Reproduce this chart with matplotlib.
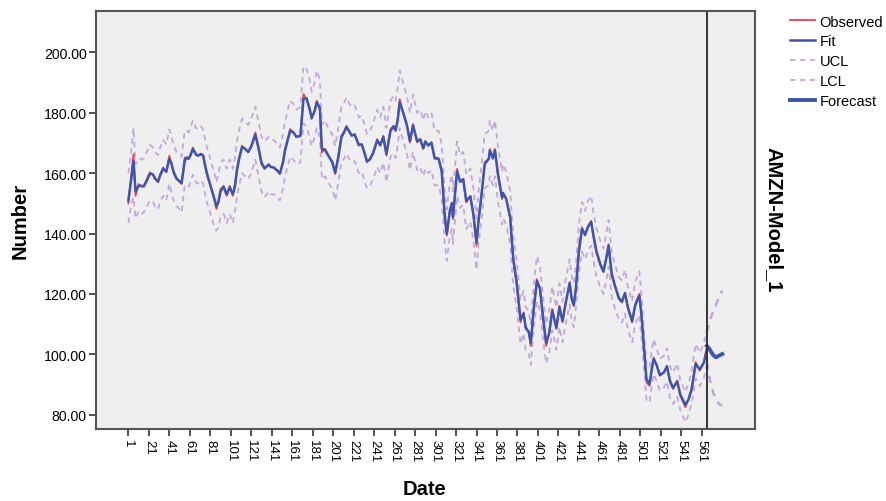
import numpy as np
import matplotlib
matplotlib.use("Agg")
import matplotlib.pyplot as plt

plt.rcParams['font.family'] = ['Liberation Sans', 'DejaVu Sans']

date_idx = [1, 4, 6, 8, 11, 14, 16, 19, 22, 25,
            27, 30, 32, 35, 38, 41, 43, 45, 48, 50,
            53, 56, 58, 60, 62, 64, 67, 69, 72, 74,
            76, 78, 80, 82, 85, 87, 89, 91, 94, 97,
            100, 103, 105, 107, 109, 112, 115, 118, 121, 125,
            128, 131, 134, 138, 140, 143, 147, 149, 152, 154,
            157, 159, 162, 165, 169, 172, 175, 178, 180, 183,
            185, 188, 190, 193, 196, 200, 203, 206, 209, 212,
            214, 217, 219, 222, 226, 229, 232, 234, 237, 240,
            244, 247, 250, 253, 257, 260, 262, 264, 266, 270,
            273, 276, 279, 283, 286, 289, 291, 294, 297, 300,
            304, 307, 310, 312, 315, 317, 318, 322, 325, 328,
            331, 335, 338, 341, 343, 346, 349, 353, 354, 357,
            359, 362, 366, 367, 370, 374, 375, 377, 380, 384,
            387, 389, 392, 394, 397, 400, 403, 406, 409, 412,
            415, 419, 422, 425, 428, 432, 434, 436, 438, 441,
            444, 447, 450, 453, 455, 458, 462, 465, 468, 470,
            473, 476, 480, 483, 486, 489, 493, 496, 500, 502,
            505, 507, 510, 512, 514, 517, 520, 524, 527, 530,
            533, 537, 540, 545, 548, 551, 555, 559, 563, 566]

observed = [150.0, 160.0, 166.3, 152.5, 156.4, 155.5, 155.8, 158.0, 160.3, 159.5,
            158.0, 157.0, 159.7, 161.9, 160.3, 165.8, 163.0, 160.3, 158.0, 157.5,
            156.4, 165.2, 165.0, 164.7, 166.5, 168.5, 166.0, 165.8, 166.5, 165.8,
            162.0, 159.1, 157.0, 154.7, 151.0, 148.1, 151.0, 154.7, 155.8, 152.5,
            155.8, 152.5, 156.0, 161.4, 165.0, 169.1, 168.0, 166.9, 169.1, 173.5,
            168.0, 163.0, 161.4, 163.0, 162.0, 161.9, 160.5, 159.7, 164.0, 168.0,
            172.0, 174.6, 173.5, 171.9, 172.4, 186.2, 184.5, 181.0, 177.9, 181.0,
            184.0, 181.2, 166.9, 168.0, 165.8, 163.6, 159.7, 165.8, 172.4, 174.0,
            175.7, 173.5, 172.4, 172.9, 169.1, 169.6, 166.0, 163.6, 164.7, 166.9,
            171.3, 169.1, 172.4, 165.8, 174.6, 175.7, 174.0, 178.0, 184.5, 179.0,
            175.7, 170.2, 176.3, 170.2, 171.3, 168.0, 170.7, 169.1, 170.2, 164.7,
            164.7, 160.3, 144.8, 139.3, 148.1, 150.3, 144.8, 161.4, 157.0, 158.1,
            150.3, 152.5, 145.9, 136.0, 144.8, 153.6, 163.6, 164.7, 168.0, 164.7,
            168.0, 159.1, 151.4, 153.6, 151.4, 144.8, 139.3, 130.5, 123.8, 110.6,
            113.9, 108.4, 107.3, 102.8, 116.1, 124.9, 121.6, 111.7, 102.8, 107.3,
            115.0, 108.4, 116.1, 110.6, 117.2, 124.0, 118.0, 116.0, 122.0, 135.0,
            142.1, 139.3, 142.6, 144.2, 139.3, 133.8, 129.4, 127.2, 132.7, 136.5,
            126.1, 122.7, 118.3, 117.2, 120.5, 115.0, 110.6, 116.7, 120.0, 112.8,
            99.5, 90.7, 89.6, 95.1, 99.0, 96.2, 92.9, 94.0, 96.2, 90.7,
            88.5, 91.3, 86.3, 82.5, 85.2, 88.5, 97.4, 94.6, 97.4, 102.3]

fit = [151.0, 158.5, 164.0, 154.0, 155.8, 155.8, 155.6, 157.5, 159.8, 159.6,
       158.3, 157.2, 159.2, 161.5, 160.5, 164.8, 163.3, 160.6, 158.3, 157.6,
       156.8, 164.0, 165.2, 164.8, 166.2, 168.0, 166.3, 165.8, 166.3, 165.9,
       162.5, 159.6, 157.3, 155.0, 151.5, 149.0, 150.5, 154.0, 155.5, 153.0,
       155.3, 153.0, 155.5, 160.8, 164.5, 168.6, 168.1, 167.0, 168.8, 172.8,
       168.6, 163.5, 161.6, 162.8, 162.1, 161.9, 160.7, 159.9, 163.5, 167.5,
       171.5, 174.0, 173.6, 172.1, 172.3, 184.5, 184.8, 181.4, 178.3, 180.6,
       183.5, 181.6, 168.0, 167.8, 166.0, 163.8, 160.2, 165.2, 171.8, 173.8,
       175.3, 173.7, 172.5, 172.8, 169.4, 169.5, 166.3, 163.9, 164.6, 166.6,
       170.8, 169.3, 172.0, 166.4, 174.0, 175.5, 174.2, 177.5, 183.5, 179.4,
       176.0, 170.6, 175.8, 170.6, 171.2, 168.3, 170.4, 169.2, 170.1, 165.2,
       164.8, 160.8, 146.0, 140.0, 147.5, 150.0, 145.5, 160.5, 157.2, 158.0,
       150.8, 152.3, 146.3, 137.0, 144.2, 153.0, 163.0, 164.8, 167.5, 165.0,
       167.6, 159.6, 152.0, 153.3, 151.5, 145.3, 140.0, 131.5, 124.5, 111.5,
       113.5, 109.0, 107.4, 103.8, 115.3, 124.2, 121.8, 112.3, 103.8, 107.0,
       114.5, 108.8, 115.6, 111.0, 116.8, 123.5, 118.4, 116.3, 121.5, 134.0,
       141.5, 139.6, 142.3, 143.8, 139.8, 134.3, 129.8, 127.5, 132.2, 136.0,
       126.8, 123.0, 118.7, 117.4, 120.2, 115.4, 111.0, 116.2, 119.5, 113.5,
       100.5, 91.8, 90.2, 94.6, 98.5, 96.4, 93.2, 94.0, 96.0, 91.2,
       88.9, 91.0, 86.7, 83.3, 85.0, 88.2, 96.8, 95.0, 97.2, 101.5]

ucl = [160.0, 168.0, 175.0, 163.0, 165.0, 164.5, 165.0, 167.0, 169.5, 168.5,
       167.0, 166.0, 168.5, 171.0, 169.5, 174.5, 172.0, 169.5, 167.0, 166.5,
       165.5, 174.0, 174.0, 173.5, 175.5, 177.5, 175.0, 174.5, 175.5, 174.5,
       171.0, 168.0, 166.0, 163.5, 160.0, 157.0, 160.0, 163.5, 164.5, 161.5,
       164.5, 161.5, 165.0, 170.5, 174.0, 178.0, 177.0, 176.0, 178.0, 182.0,
       177.0, 172.0, 170.5, 172.0, 171.0, 171.0, 169.5, 168.5, 173.0, 177.0,
       181.5, 184.0, 183.0, 181.0, 182.0, 195.5, 194.5, 191.0, 187.0, 190.0,
       194.0, 191.0, 176.0, 177.5, 175.0, 173.0, 169.0, 175.0, 182.0, 183.5,
       185.0, 183.0, 182.0, 182.5, 178.5, 179.0, 175.5, 173.0, 174.0, 176.5,
       181.0, 178.5, 182.0, 175.0, 184.0, 185.5, 184.0, 188.0, 194.0, 189.0,
       185.5, 180.0, 186.0, 180.0, 181.0, 177.5, 180.5, 178.5, 180.0, 174.0,
       174.0, 169.5, 154.0, 148.0, 157.0, 159.5, 154.0, 170.5, 166.0, 167.0,
       159.5, 161.5, 155.0, 145.0, 154.0, 163.0, 173.0, 174.0, 177.5, 174.0,
       177.5, 168.5, 160.5, 163.0, 160.5, 154.0, 148.5, 139.0, 132.0, 118.0,
       121.0, 115.5, 114.5, 110.0, 123.5, 132.5, 129.0, 119.0, 110.0, 114.5,
       122.5, 115.5, 123.5, 117.5, 124.5, 131.5, 125.5, 123.5, 129.5, 143.0,
       150.5, 147.5, 151.0, 152.5, 147.5, 142.0, 137.5, 135.0, 140.5, 144.5,
       134.0, 130.0, 125.5, 124.5, 128.0, 122.0, 117.5, 124.0, 127.5, 120.0,
       106.0, 96.5, 95.5, 101.0, 105.0, 102.0, 98.5, 99.5, 102.0, 96.0,
       94.0, 97.0, 91.5, 87.5, 90.5, 94.0, 103.5, 100.5, 103.5, 108.5]

lcl = [143.5, 150.0, 152.0, 145.0, 147.5, 146.5, 147.0, 149.0, 151.0, 150.5,
       149.0, 148.0, 150.5, 152.5, 151.0, 156.5, 154.0, 151.0, 149.0, 148.5,
       147.0, 156.0, 156.0, 155.5, 157.5, 159.5, 157.0, 156.5, 157.5, 156.5,
       153.0, 150.0, 148.0, 145.5, 142.0, 141.0, 142.0, 145.5, 146.5, 143.5,
       146.5, 143.5, 147.0, 152.0, 155.5, 160.0, 159.0, 158.0, 160.0, 164.5,
       159.0, 154.0, 152.0, 154.0, 153.0, 153.0, 151.5, 151.0, 155.0, 159.0,
       163.0, 165.5, 164.5, 163.0, 163.5, 176.5, 175.5, 172.0, 169.0, 172.0,
       175.0, 172.0, 158.0, 159.0, 157.0, 155.0, 151.0, 157.0, 163.5, 165.0,
       166.5, 164.5, 163.5, 164.0, 160.0, 160.5, 157.0, 155.0, 156.0, 158.0,
       162.0, 160.0, 163.5, 157.0, 165.5, 166.5, 165.0, 169.0, 175.0, 170.0,
       166.5, 161.0, 167.0, 161.0, 162.0, 159.0, 161.5, 160.0, 161.0, 156.0,
       156.0, 151.5, 136.5, 131.0, 139.5, 141.5, 136.5, 152.5, 148.5, 149.5,
       141.5, 144.0, 137.5, 128.0, 136.5, 145.0, 155.0, 156.0, 159.0, 156.0,
       159.0, 150.5, 143.0, 145.0, 143.0, 136.5, 131.0, 122.5, 116.0, 103.5,
       107.0, 101.5, 100.5, 96.5, 109.0, 117.5, 114.5, 105.0, 97.0, 100.5,
       108.0, 101.5, 109.0, 104.0, 110.0, 116.5, 111.0, 109.0, 115.0, 127.0,
       134.0, 131.5, 134.5, 136.0, 131.5, 126.0, 122.0, 120.0, 125.0, 129.0,
       119.0, 115.5, 111.5, 110.5, 113.5, 108.0, 104.0, 110.0, 113.0, 106.0,
       94.0, 85.0, 84.0, 89.5, 93.5, 91.0, 88.0, 89.0, 91.0, 85.5,
       83.5, 86.0, 81.5, 77.5, 80.0, 83.5, 92.0, 89.5, 92.0, 97.0]

# forecast period
fc_idx = [566, 569, 572, 575, 578, 581]
forecast = [102.8, 101.5, 99.8, 99.0, 99.6, 100.1]
fc_ucl = [107.3, 111.5, 114.0, 116.5, 119.0, 121.2]
fc_lcl = [97.4, 91.5, 87.5, 85.0, 83.5, 83.0]

forecast_start = 566
x_ticks = list(range(1, 562, 20))
y_ticks = [80, 100, 120, 140, 160, 180, 200]

band_color = "#c3a6da"
blue = "#3d55ad"
red = "#ef3e4a"

fig = plt.figure(figsize=(8.87, 5.02), dpi=100)
ax = fig.add_axes([0.1086, 0.143, 0.7426, 0.833])
ax.set_facecolor("#efefef")

ax.plot(date_idx, ucl, color=band_color, lw=1.3, ls=(0, (3, 2.5)), label="UCL")
ax.plot(date_idx, lcl, color=band_color, lw=1.3, ls=(0, (3, 2.5)), label="LCL")
ax.plot(fc_idx, fc_ucl, color=band_color, lw=1.8, ls=(0, (3, 2.5)))
ax.plot(fc_idx, fc_lcl, color=band_color, lw=1.8, ls=(0, (3, 2.5)))
ax.plot(date_idx, observed, color=red, lw=1.3, label="Observed")
ax.plot(date_idx, fit, color=blue, lw=1.8, label="Fit")
ax.plot(fc_idx, forecast, color=blue, lw=2.8, label="Forecast")
ax.axvline(forecast_start, color="#333333", lw=1.4)

ax.set_xlim(-30.3, 613)
ax.set_ylim(75.2, 213.7)
ax.set_xticks(x_ticks)
ax.set_xticklabels([str(t) for t in x_ticks], rotation=-90, fontsize=9.5)
ax.set_yticks(y_ticks)
ax.set_yticklabels(["%.2f" % v for v in y_ticks], fontsize=10.2)
ax.tick_params(direction="out", length=5, width=1.2, color="#333333", pad=2)

for s in ax.spines.values():
    s.set_color("#555555")
    s.set_linewidth(1.5)

# axis titles (SPSS style, bold)
fig.text(425 / 887, 1 - 490 / 502, "Date", fontsize=14.5, fontweight="bold",
         ha="center", va="center")
fig.text(20 / 887, 0.56, "Number", rotation=90, fontsize=14.5,
         fontweight="bold", ha="center", va="center")
fig.text(774 / 887, 0.562, "AMZN-Model_1", rotation=-90, fontsize=14.5,
         fontweight="bold", ha="center", va="center")

handles, labels = ax.get_legend_handles_labels()
order = ["Observed", "Fit", "UCL", "LCL", "Forecast"]
hmap = dict(zip(labels, handles))
fig.legend([hmap[k] for k in order], order, loc="upper left",
           bbox_to_anchor=(0.891, 0.969), frameon=False, fontsize=10.5,
           handlelength=1.7, handletextpad=0.3, labelspacing=0.4,
           borderaxespad=0, borderpad=0)

fig.savefig("out.png", dpi=100)
